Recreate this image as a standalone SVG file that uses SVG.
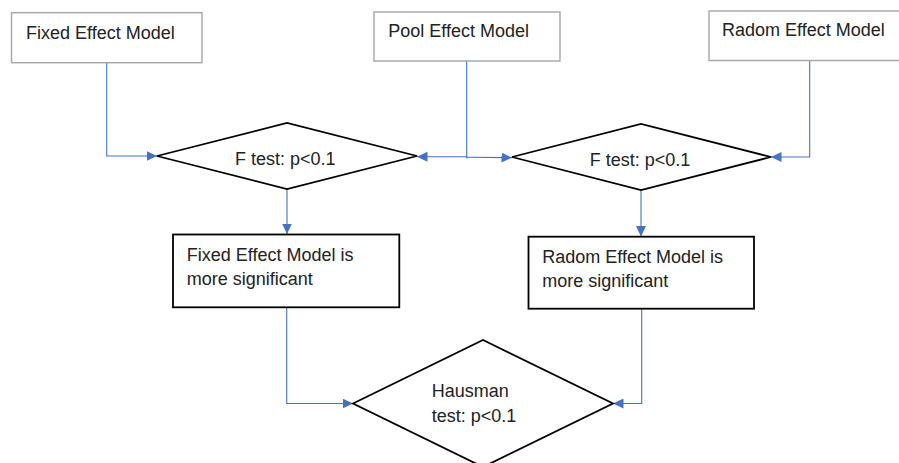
<svg xmlns="http://www.w3.org/2000/svg" width="899" height="463" viewBox="0 0 899 463">
  <defs>
    <style>
      .src { fill: #ffffff; stroke: #a6a6a6; stroke-width: 1.4; }
      .res { fill: #ffffff; stroke: #000000; stroke-width: 1.8; }
      .dec { fill: #ffffff; stroke: #000000; stroke-width: 1.8; stroke-linejoin: miter; }
      .lbl { font-family: "Liberation Sans", Arial, sans-serif; font-size: 18px; fill: #222222; }
      .conn { fill: none; stroke: #4472c4; stroke-width: 1.1; marker-end: url(#arrow); }
    </style>
    <marker id="arrow" markerUnits="userSpaceOnUse" markerWidth="11" markerHeight="10" refX="10.5" refY="5" orient="auto">
      <path d="M0,0 L10.5,5 L0,10 z" fill="#4472c4"/>
    </marker>
  </defs>
  <rect width="899" height="463" fill="#ffffff"/>

  <!-- connectors -->
  <g id="connectors">
    <path class="conn" d="M106.7,62.7 V156 H157"/>
    <path class="conn" d="M466.7,61 V156.7 H417"/>
    <path fill="none" stroke="#4472c4" stroke-width="1.1" d="M466.7,156.7 V158.5"/>
    <path class="conn" d="M466.7,157.3 L512,157.6"/>
    <path class="conn" d="M809.7,60.5 V157 H771"/>
    <path class="conn" d="M287,189 V234"/>
    <path class="conn" d="M641,190 V236.5"/>
    <path class="conn" d="M286.7,307.5 V403.5 H353"/>
    <path class="conn" d="M641.7,309 V403.5 H613"/>
  </g>

  <!-- source models -->
  <g id="fixed-model">
    <rect class="src" x="11.5" y="12.7" width="190.5" height="50"/>
    <text class="lbl" x="26" y="39">Fixed Effect Model</text>
  </g>
  <g id="pool-model">
    <rect class="src" x="374" y="12" width="186" height="49"/>
    <text class="lbl" x="388.3" y="37">Pool Effect Model</text>
  </g>
  <g id="radom-model">
    <rect class="src" x="709" y="11" width="200" height="49.5"/>
    <text class="lbl" x="722" y="36">Radom Effect Model</text>
  </g>

  <!-- F tests -->
  <g id="f-test-fixed">
    <polygon class="dec" points="157,156 287,123 417,156 287,189"/>
    <text class="lbl" x="235" y="165">F test: p&lt;0.1</text>
  </g>
  <g id="f-test-radom">
    <polygon class="dec" points="512,157 641,124 771,157 641,190"/>
    <text class="lbl" x="589.7" y="165.7">F test: p&lt;0.1</text>
  </g>

  <!-- outcomes -->
  <g id="fixed-significant">
    <rect class="res" x="173" y="234.5" width="226.3" height="72.8"/>
    <text class="lbl" x="186.7" y="260.7">Fixed Effect Model is</text>
    <text class="lbl" x="186.7" y="285">more significant</text>
  </g>
  <g id="radom-significant">
    <rect class="res" x="528.5" y="236.7" width="225.5" height="72"/>
    <text class="lbl" x="542.3" y="262.7">Radom Effect Model is</text>
    <text class="lbl" x="542.3" y="286.7">more significant</text>
  </g>

  <!-- Hausman test -->
  <g id="hausman-test">
    <polygon class="dec" points="353,403.5 483,340 613,403.5 483,467"/>
    <text class="lbl" x="431.7" y="396.7">Hausman</text>
    <text class="lbl" x="431.7" y="421.7">test: p&lt;0.1</text>
  </g>
</svg>
